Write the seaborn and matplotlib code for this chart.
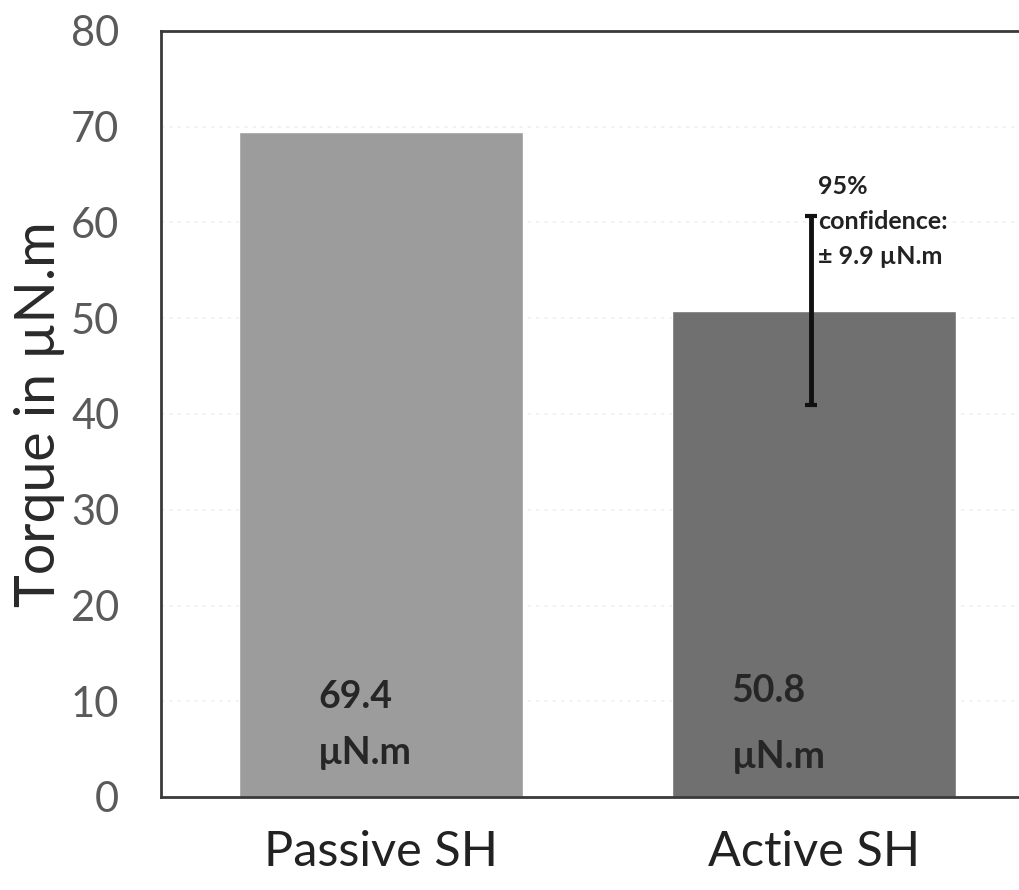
import matplotlib
matplotlib.use("Agg")
import matplotlib.pyplot as plt
import seaborn as sns
import pandas as pd

# Data
categories = ["Passive SH", "Active SH"]
torque = [69.4, 50.8]
ci95 = [None, 9.9]
bar_colors = ["#9c9c9c", "#707070"]
yticks = [0, 10, 20, 30, 40, 50, 60, 70, 80]

sns.set_theme(style="white")
plt.rcParams["font.family"] = ["Lato", "DejaVu Sans"]

df = pd.DataFrame({"condition": categories, "torque": torque})

fig = plt.figure(figsize=(10.19, 8.9), dpi=100)
W, H = 1019, 890
left, right, top, bottom = 161, 1100, 31, 797
ax = fig.add_axes([left / W, 1 - bottom / H, (right - left) / W, (bottom - top) / H])

sns.barplot(data=df, x="condition", y="torque", hue="condition",
            palette=bar_colors, width=0.655, errorbar=None, legend=False,
            saturation=1, ax=ax, zorder=2)

ax.set_ylim(0, 80)
# plot area runs on past the right edge of the figure
px_per_cat = 433
ax.set_xlim(-0.508, -0.508 + (right - left) / px_per_cat)
ax.set_yticks(yticks)
ax.yaxis.grid(True, color="#f0f0f0", linestyle=(0, (2, 3)), linewidth=1.2, zorder=0)
ax.set_axisbelow(True)

for side in ["left", "top", "bottom"]:
    ax.spines[side].set_color("#3a3a3a")
    ax.spines[side].set_linewidth(2)
ax.spines["right"].set_visible(False)

ax.tick_params(axis="y", labelsize=30, colors="#5a5a5a", length=0, pad=30)
ax.tick_params(axis="x", labelsize=35, colors="#222222", length=0, pad=24)
ax.set_xlabel("")
ax.set_ylabel("Torque in µN.m", fontsize=40, color="#2a2a2a", labelpad=4)

# 95% confidence interval on the active bar
for i, (v, e) in enumerate(zip(torque, ci95)):
    if e is None:
        continue
    ax.errorbar(i - 0.007, v, yerr=e, fmt="none", ecolor="#111111",
                elinewidth=3.5, capsize=4, capthick=3, zorder=4)
    ax.text(i + 0.01, 63.8, "95%", fontsize=18, fontweight="bold",
            color="#222222", ha="left", va="center")
    ax.text(i + 0.01, 60.1, "confidence:", fontsize=18, fontweight="bold",
            color="#222222", ha="left", va="center")
    ax.text(i + 0.01, 56.5, "± 9.9 µN.m", fontsize=18, fontweight="bold",
            color="#222222", ha="left", va="center")

# Value labels inside the bars
offsets = [-0.145, -0.19]
value_y = [10.45, 11.1]
unit_y = [4.6, 4.2]
for i, v in enumerate(torque):
    ax.text(i + offsets[i], value_y[i], f"{v:.1f}", fontsize=27, fontweight="bold",
            color="#262626", ha="left", va="center")
    ax.text(i + offsets[i], unit_y[i], "µN.m", fontsize=27, fontweight="bold",
            color="#262626", ha="left", va="center")

fig.savefig("out.png", dpi=100)
